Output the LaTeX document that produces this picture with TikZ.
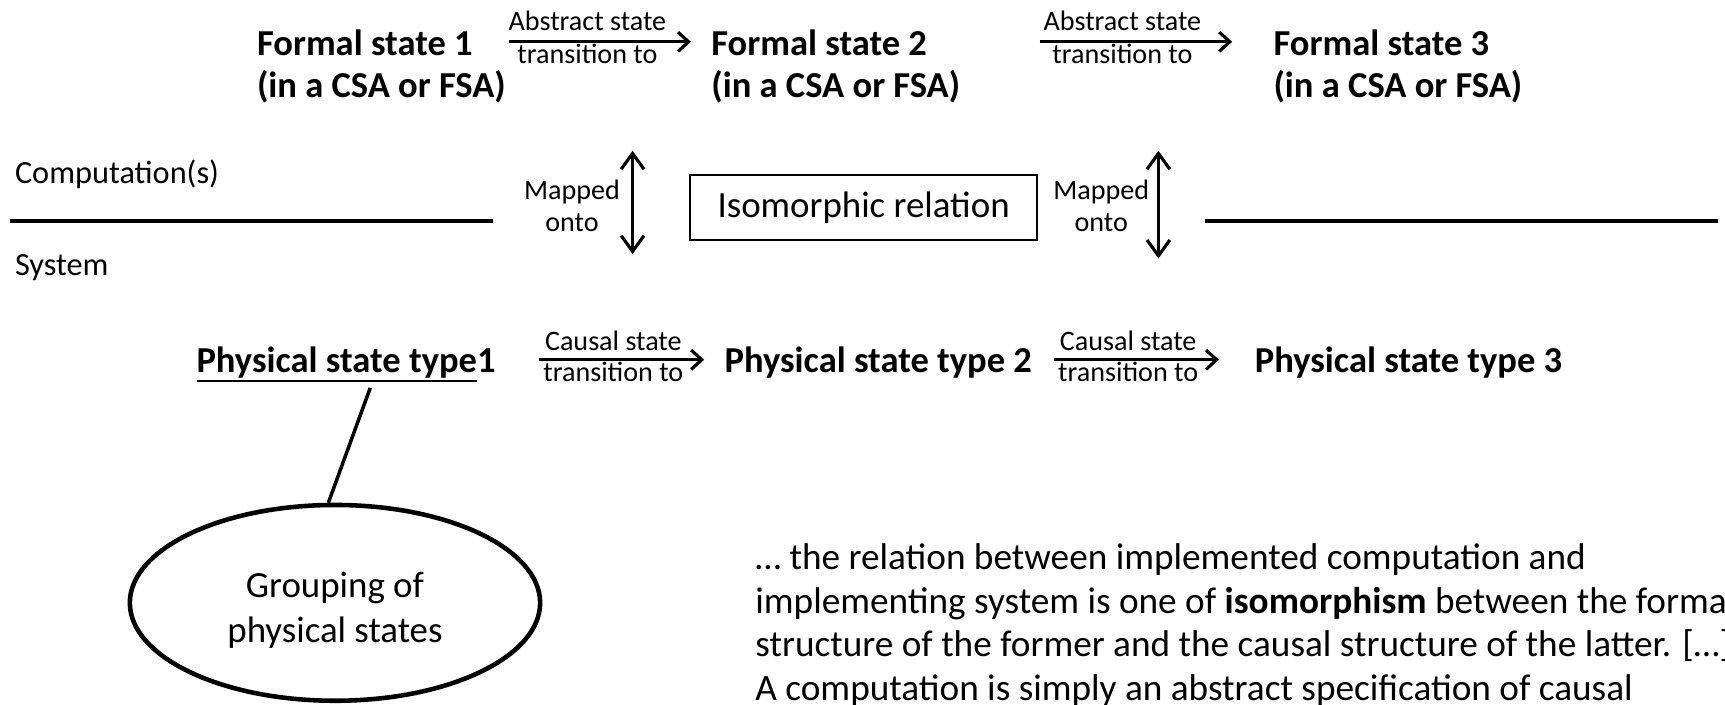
\documentclass[tikz,border=0pt]{standalone}
\usepackage{fontspec}
\setmainfont{Carlito}
\usepackage{tikz}
\usetikzlibrary{arrows.meta, positioning, calc, shapes.geometric}

\newsavebox{\ulbox}
\newcommand{\ulin}[1]{\sbox\ulbox{#1}\rlap{\rule[-2.5pt]{\wd\ulbox}{0.6pt}}\usebox\ulbox}

\tikzset{
    state/.style={font=\bfseries\fontsize{10.4}{12.2}\selectfont, align=left, inner sep=0pt, anchor=base west},
    trlab/.style={font=\fontsize{8}{9.6}\selectfont, inner sep=0pt, anchor=base},
    side/.style={font=\fontsize{9.2}{11}\selectfont, inner sep=0pt, anchor=base west},
    maplab/.style={font=\fontsize{8}{9}\selectfont, align=center, inner sep=0pt, anchor=base},
    trans/.style={-{Straight Barb[length=3pt,width=5.5pt]}, line width=0.9pt},
    maps/.style={{Straight Barb[length=4.5pt,width=6.5pt]}-{Straight Barb[length=4.5pt,width=6.5pt]}, line width=0.9pt},
    divider/.style={line width=1.3pt},
}

\begin{document}
\begin{tikzpicture}[x=0.011cm, y=0.011cm]
    \useasboundingbox (0,0) rectangle (1568,-640);

    % Stati formali (base = ultima riga)
    \foreach \n/\x in {1/233, 2/646, 3/1157}{
        \node[state] (f\n) at (\x,-89) {Formal state \n\\(in a CSA or FSA)};
    }
    \foreach \i/\xa/\xb in {1/463/628, 2/945/1120}{
        \coordinate (a\i s) at (\xa,-38);
        \coordinate (a\i e) at (\xb,-38);
        \draw[trans] (a\i s) -- (a\i e);
        \node[trlab] (abs\i) at ($(a\i s)!0.43!(a\i e)+(0,10)$) {Abstract state};
        \node[trlab] (abt\i) at ($(a\i s)!0.43!(a\i e)+(0,-20)$) {transition to};
    }

    % Livelli
    \node[side] (comp) at (13,-167) {Computation(s)};
    \node[side] (sys) at (13,-250) {System};
    \draw[divider] (9,-201) -- (448,-201);
    \draw[divider] (1095,-201) -- (1562,-201);

    % Mappature
    \foreach \i/\xl/\xa/\yb in {1/520/575/-231, 2/1001/1053/-235}{
        \node[maplab] (map\i) at (\xl,-210) {Mapped\\onto};
        \coordinate (m\i t) at (\xa,-137);
        \coordinate (m\i b) at (\xa,\yb);
        \draw[maps] (m\i t) -- (m\i b);
    }
    \node[draw, line width=0.6pt, minimum width=3.476cm, minimum height=0.649cm,
          font=\fontsize{10.5}{12}\selectfont] (iso) at (785,-188.5) {Isomorphic relation};

    % Stati fisici
    \node[state] (p1) at (178,-339) {\ulin{Physical state type}1};
    \foreach \n/\x in {2/658, 3/1140}{
        \node[state] (p\n) at (\x,-339) {Physical state type \n};
    }
    \foreach \i/\xa/\xb in {1/490/640, 2/958/1108}{
        \coordinate (c\i s) at (\xa,-327);
        \coordinate (c\i e) at (\xb,-327);
        \draw[trans] (c\i s) -- (c\i e);
        \node[trlab] (cs\i) at ($(c\i s)!0.45!(c\i e)+(0,8)$) {Causal state};
        \node[trlab] (ct\i) at ($(c\i s)!0.45!(c\i e)+(0,-20)$) {transition to};
    }

    % Raggruppamento
    \node[ellipse, draw, line width=1.3pt, minimum width=4.103cm, minimum height=1.958cm,
          inner sep=0pt] (grp) at (304.5,-548) {};
    \node[align=center, inner sep=0pt, font=\fontsize{10.5}{12.8}\selectfont] (grptxt)
          at ($(grp.center)+(0,-7)$) {Grouping of\\physical states};
    \draw[line width=1pt] ($(p1.south)+(22,-5)$) -- ([xshift=-0.066cm]grp.north);

    % Citazione
    \node[anchor=base west, align=left, inner sep=0pt, font=\fontsize{10.6}{12.47}\selectfont] (quote) at (686,-637)
        {… the relation between implemented computation and\\
         implementing system is one of \textbf{isomorphism} between the formal\\
         structure of the former and the causal structure of the latter. […]\\
         A computation is simply an abstract specification of causal};
\end{tikzpicture}
\end{document}
